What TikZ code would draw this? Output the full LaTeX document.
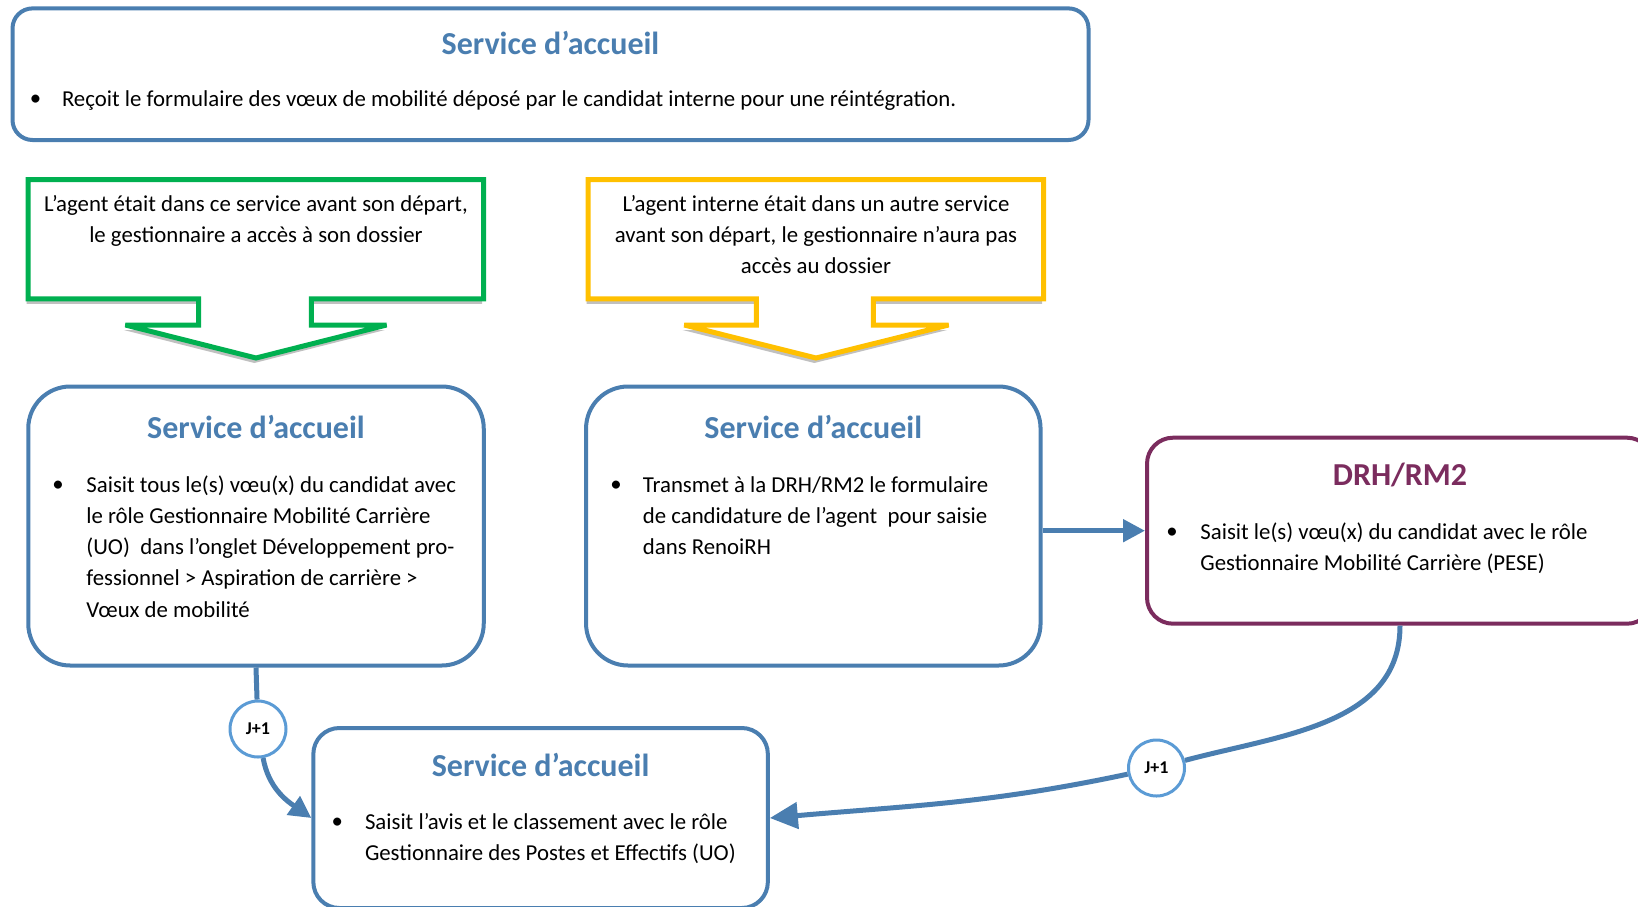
\documentclass[tikz,border=0pt]{standalone}
\usepackage{fontspec}
\setmainfont{Carlito}
\usepackage{xcolor}
\usepackage{tikz}
\usetikzlibrary{positioning, calc, shadows}
\usetikzlibrary{arrows.meta}
\definecolor{bleu}{RGB}{74,126,176}
\definecolor{bleuclair}{RGB}{91,155,213}
\definecolor{prune}{RGB}{123,44,94}
\definecolor{vert}{RGB}{0,176,80}
\definecolor{jaune}{RGB}{255,192,0}

\begin{document}
\begin{tikzpicture}[x=0.5pt, y=-0.5pt]
            \tikzset{boite/.style = {draw=bleu, line width=2pt, fill=white, inner sep=0pt}}
            \tikzset{titre/.style = {font=\fontsize{16}{18}\selectfont\bfseries, text=bleu}}
            \tikzset{corps/.style = {font=\fontsize{11.4}{15.6}\selectfont, anchor=north west, align=left, inner sep=0pt}}
            \tikzset{puce/.style = {font=\fontsize{11.4}{12}\selectfont, inner sep=0pt}}
            \tikzset{bulle/.style = {line width=2.5pt, miter limit=2, fill=white, drop shadow={opacity=0.45, fill=black!55, shadow xshift=-0.8pt, shadow yshift=-2.5pt}}}
            \tikzset{fleche/.style = {draw=bleu, line width=2.5pt, -{Triangle[length=11pt,width=11pt]}}}
            \tikzset{jour/.style = {circle, draw=bleuclair, line width=1.5pt, fill=white, minimum size=28pt, inner sep=0pt, font=\fontsize{9}{10}\selectfont\bfseries}}

            \useasboundingbox (0,0) rectangle (1638,906);

            % boite du haut
            \node[boite, rounded corners=10pt, minimum width=538pt, minimum height=65.8pt] (haut) at (550.5,74.2) {};
            \node[titre] (thaut) at ($(haut.north)+(0,37)$) {Service d’accueil};
            \node[puce] (phaut) at (35.5,100) {\textbullet};
            \node[corps] (chaut) at (61.6,84) {\strut Reçoit le formulaire des vœux de mobilité déposé par le candidat interne pour une réintégration.};

            % bulles
            \draw[bulle, draw=vert] (28.2,179.7) -- (483.7,179.7) -- (483.7,298.8) -- (311.3,298.8) -- (311.3,325) -- (386.5,325)
                -- (256,358) -- (125.4,325) -- (198.5,325) -- (198.5,298.8) -- (28.2,298.8) -- cycle;
            \node[font=\fontsize{11.4}{15.6}\selectfont, align=center, anchor=north, inner sep=0pt] (cvert) at (256,189)
                {\strut L’agent était dans ce service avant son départ,\\le gestionnaire a accès à son dossier};
            \draw[bulle, draw=jaune] (588.2,179.7) -- (1043.7,179.7) -- (1043.7,298.8) -- (873.4,298.8) -- (873.4,325) -- (948.6,325)
                -- (816,358) -- (684.3,325) -- (756.4,325) -- (756.4,298.8) -- (588.2,298.8) -- cycle;
            \node[font=\fontsize{11.4}{15.6}\selectfont, align=center, anchor=north, inner sep=0pt] (cjaune) at (816,189)
                {\strut L’agent interne était dans un autre service\\avant son départ, le gestionnaire n’aura pas\\accès au dossier};

            % service d'accueil (meme service)
            \node[boite, rounded corners=21pt, minimum width=227.75pt, minimum height=139.5pt] (accA) at (256,526) {};
            \node[titre] (tA) at ($(accA.north)+(0,42)$) {Service d’accueil};
            \node[puce] (pA) at (58,486) {\textbullet};
            \node[corps] (cA) at (86,470) {\strut Saisit tous le(s) vœu(x) du candidat avec\\le rôle Gestionnaire Mobilité Carrière\\(UO)\ \ dans l’onglet Développement pro-\\fessionnel > Aspiration de carrière >\\Vœux de mobilité};

            % service d'accueil (autre service)
            \node[boite, rounded corners=21pt, minimum width=227.25pt, minimum height=139.5pt] (accB) at (813.3,526) {};
            \node[titre] (tB) at ($(accB.north)+(0,42)$) {Service d’accueil};
            \node[puce] (pB) at (616,486) {\textbullet};
            \node[corps] (cB) at (642.5,470) {\strut Transmet à la DRH/RM2 le formulaire\\de candidature de l’agent\ \ pour saisie\\dans RenoiRH};

            % DRH/RM2
            \node[boite, draw=prune, rounded corners=13pt, minimum width=253pt, minimum height=93pt] (drh) at (1400,530.7) {};
            \node[titre, text=prune] (tdrh) at ($(drh.north)+(0,39)$) {DRH/RM2};
            \node[puce] (pdrh) at (1172,533) {\textbullet};
            \node[corps] (cdrh) at (1200,517) {\strut Saisit le(s) vœu(x) du candidat avec le rôle\\Gestionnaire Mobilité Carrière (PESE)};

            % service d'accueil (avis)
            \node[boite, rounded corners=13pt, minimum width=227.25pt, minimum height=90pt] (accD) at (540.6,818) {};
            \node[titre] (tD) at ($(accD.north)+(0,39)$) {Service d’accueil};
            \node[puce] (pD) at (337.4,823) {\textbullet};
            \node[corps] (cD) at (364.6,807) {\strut Saisit l’avis et le classement avec le rôle\\Gestionnaire des Postes et Effectifs (UO)};

            % delais
            \node[jour] (j1) at (258,729) {J+1};
            \node[jour] (j2) at (1156.5,768) {J+1};

            % fleches
            \draw[fleche] (accB.east |- drh.west) -- (drh.west);
            \draw[draw=bleu, line width=2.5pt] (accA.south) -- (j1);
            \draw[fleche] (j1) to[out=-80, in=145] (accD.west);
            \draw[draw=bleu, line width=2.5pt] (drh.south) to[out=-90, in=15] (j2);
            \draw[fleche, -{Triangle[length=14pt,width=13pt]}] (j2) to[out=192, in=5] (accD.east);

        \end{tikzpicture}
\end{document}
